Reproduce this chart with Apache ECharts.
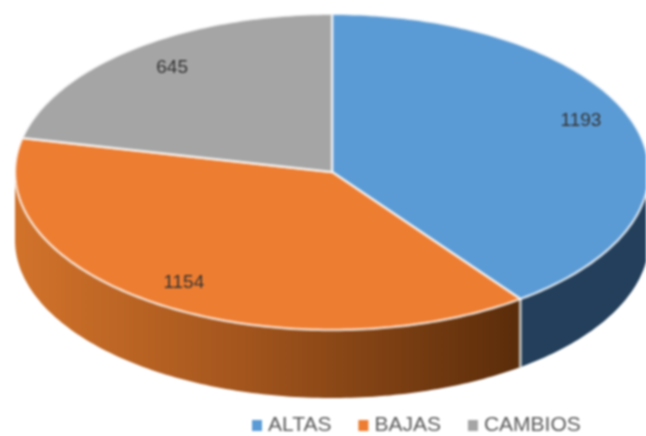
<!DOCTYPE html>
<html>
<head>
<meta charset="utf-8">
<style>
html, body { margin: 0; padding: 0; background: #fff; overflow: hidden; }
#chart { width: 646px; height: 436px; filter: blur(0.9px); }
</style>
<script src="https://cdn.jsdelivr.net/npm/echarts@6/dist/echarts.min.js"></script>
</head>
<body>
<div id="chart"></div>
<script>
var categories = ['ALTAS', 'BAJAS', 'CAMBIOS'];
var values = [1193, 1154, 645];

var colors = ['#5b9bd5', '#ed7d31', '#a5a5a5'];
var cx = 332, cy = 172, rx = 317, ry = 158, depth = 68;
var labelDx = [-1, -5, 5];
var labelDy = [-10, 1, -2];

var total = 0;
for (var i = 0; i < values.length; i++) {
	total += values[i];
}

function pt(deg, down) {
	var a = deg * Math.PI / 180;
	return [cx + rx * Math.sin(a), cy - ry * Math.cos(a) + (down || 0)];
}

function arc(from, to, down) {
	var pts = [];
	for (var d = from; d < to; d += 1) {
		pts.push(pt(d, down));
	}
	pts.push(pt(to, down));
	return pts;
}

function wallFill(idx) {
	if (idx === 1) {
		return {
			type: 'linear', x: 15, y: 0, x2: 521, y2: 0, global: true,
			colorStops: [
				{ offset: 0, color: '#d2732b' },
				{ offset: 0.45, color: '#a3551d' },
				{ offset: 1, color: '#5a2c0a' }
			]
		};
	}
	return '#233f5b';
}

function makeRender(idx) {
	return function(params, api) {
		var before = 0;
		for (var j = 0; j < idx; j++) {
			before += values[j];
		}
		var start = before / total * 360;
		var end = (before + api.value(0)) / total * 360;
		var kids = [];

		// side wall, only the part facing the viewer
		var from = Math.max(start, 90), to = Math.min(end, 270);
		if (from < to) {
			var wall = arc(from, to, 0).concat(arc(from, to, depth).reverse());
			kids.push({
				type: 'polygon',
				shape: { points: wall },
				style: { fill: wallFill(idx) }
			});
		}
		if (idx === 0) {
			var p1 = pt(end, 0), p2 = pt(end, depth);
			kids.push({
				type: 'line',
				shape: { x1: p1[0], y1: p1[1], x2: p2[0], y2: p2[1] },
				style: { stroke: '#b5b5b5', lineWidth: 3 },
				z2: 5
			});
		}

		var top = [[cx, cy]].concat(arc(start, end, 0));
		kids.push({
			type: 'polygon',
			shape: { points: top },
			style: { fill: colors[idx], stroke: 'rgba(255,255,255,0.7)', lineWidth: 2.5, lineJoin: 'round' },
			z2: 10
		});

		var mid = pt((start + end) / 2, 0);
		kids.push({
			type: 'text',
			x: cx + (mid[0] - cx) * 0.83 + labelDx[idx],
			y: cy + (mid[1] - cy) * 0.83 + labelDy[idx],
			style: {
				text: String(api.value(0)),
				fill: '#333333',
				font: '19px "Liberation Sans"',
				align: 'center',
				verticalAlign: 'middle'
			},
			z2: 20
		});
		return { type: 'group', children: kids };
	};
}

var seriesList = [];
for (var k = 0; k < categories.length; k++) {
	seriesList.push({
		type: 'custom',
		name: categories[k],
		coordinateSystem: 'none',
		renderItem: makeRender(k),
		itemStyle: { color: colors[k] },
		data: [[values[k]]],
		z: k === 2 ? 3 : 2
	});
}

var chart = echarts.init(document.getElementById('chart'));
chart.setOption({
	animation: false,
	backgroundColor: '#fff',
	legend: {
		data: categories,
		left: 252,
		top: 415,
		padding: 0,
		itemWidth: 10,
		itemHeight: 11,
		itemGap: 27,
		icon: 'rect',
		textStyle: {
			color: '#595959',
			fontFamily: 'Liberation Sans',
			fontSize: 21,
			padding: [0, 0, 0, 1]
		}
	},
	series: seriesList
});
</script>
</body>
</html>
